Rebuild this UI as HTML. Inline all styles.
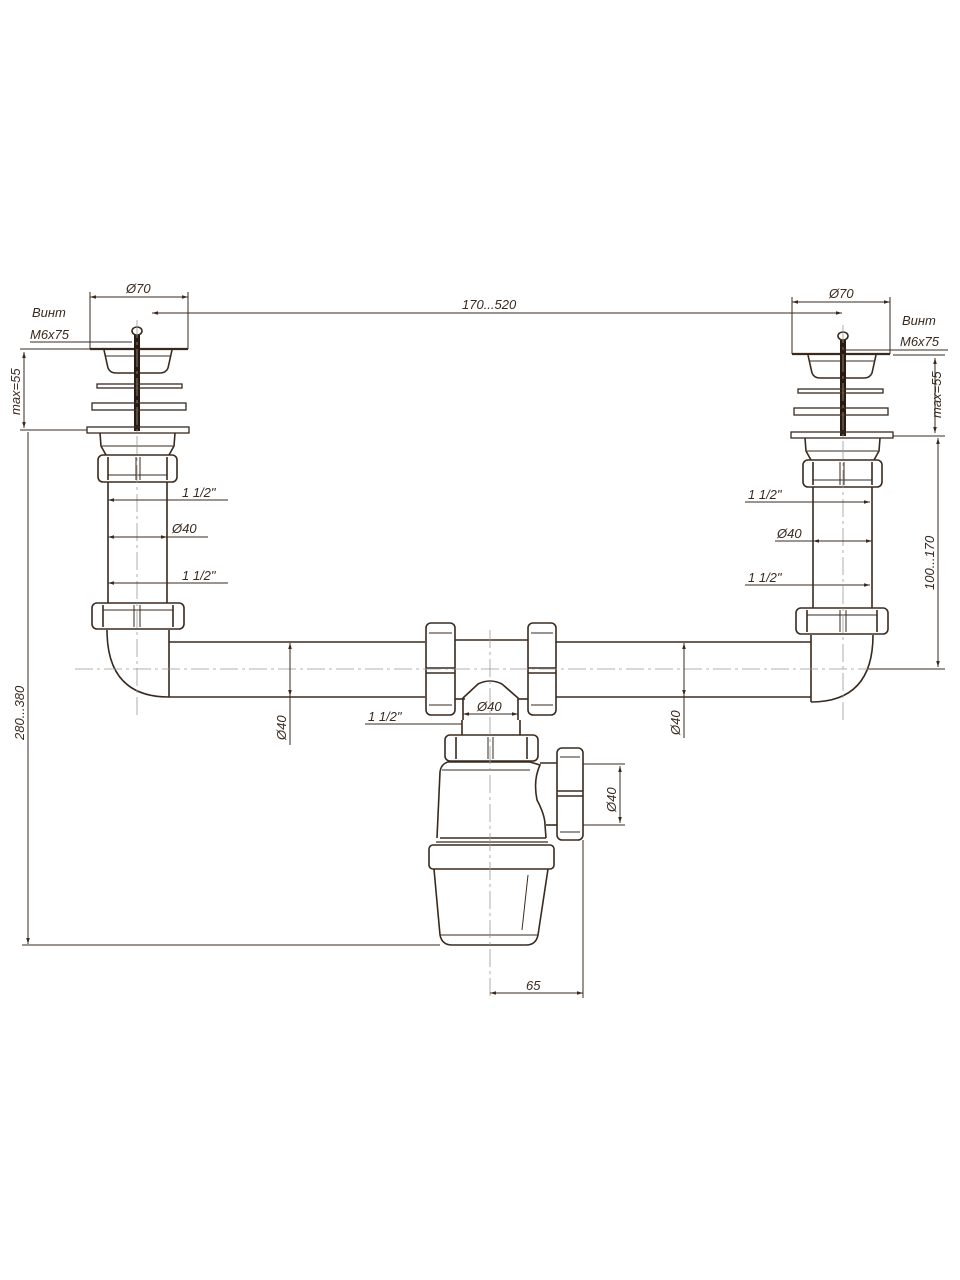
<!DOCTYPE html>
<html><head><meta charset="utf-8"><style>
html,body{margin:0;padding:0;background:#fff}
svg{display:block}
text{font-family:"Liberation Sans",sans-serif;font-style:italic;font-size:13px;fill:#3a2a1e}
</style></head><body>
<svg width="960" height="1280" viewBox="0 0 960 1280" xmlns="http://www.w3.org/2000/svg">
<defs>
<marker id="a" viewBox="0 0 10 10" refX="10" refY="5" markerWidth="6" markerHeight="6" orient="auto-start-reverse"><path d="M0,2 L10,5 L0,8z" fill="#3a2a1e"/></marker>
<g id="riser" fill="none" stroke="#3a2a1e" stroke-width="1.6">
  <!-- dims -->
  <line x1="90" y1="292" x2="90" y2="349" stroke-width="1"/>
  <line x1="188" y1="292" x2="188" y2="349" stroke-width="1"/>
  <line x1="90" y1="297" x2="188" y2="297" stroke-width="1" marker-start="url(#a)" marker-end="url(#a)"/>
  <!-- top flange -->
  <line x1="90" y1="349" x2="188" y2="349" stroke-width="2.2"/>
  <path d="M104,350 L108,368 Q110,373 116,373 L160,373 Q166,373 168,368 L172,350"/>
  <path d="M106,356 L170,356" stroke-width="1"/>
  <!-- bolt -->
  <rect x="134" y="335" width="6" height="96" fill="#2a1a10" stroke="none"/>
  <ellipse cx="137" cy="331" rx="5" ry="4"/>
  <!-- washers -->
  <rect x="97" y="384" width="85" height="4" stroke-width="1.3"/>
  <rect x="92" y="403" width="94" height="7" stroke-width="1.3"/>
  <rect x="87" y="427" width="102" height="6" stroke-width="1.3"/>
  <!-- body -->
  <path d="M100,433 L101,446 L106,455 M175,433 L174,446 L169,455"/>
  <line x1="102" y1="446" x2="173" y2="446" stroke-width="1"/>
  <!-- upper nut -->
  <rect x="98" y="455" width="79" height="27" rx="5"/>
  <line x1="108" y1="457" x2="108" y2="480"/><line x1="167" y1="457" x2="167" y2="480"/>
  <line x1="136" y1="457" x2="136" y2="480" stroke-width="1"/><line x1="140" y1="457" x2="140" y2="480" stroke-width="1"/>
  <line x1="108" y1="475" x2="167" y2="475" stroke-width="1"/>
  <!-- pipe -->
  <line x1="108" y1="482" x2="108" y2="603"/><line x1="167" y1="482" x2="167" y2="603"/>
  <!-- lower nut -->
  <rect x="92" y="603" width="92" height="26" rx="5"/>
  <line x1="103" y1="605" x2="103" y2="627"/><line x1="173" y1="605" x2="173" y2="627"/>
  <line x1="134" y1="605" x2="134" y2="627" stroke-width="1"/><line x1="140" y1="605" x2="140" y2="627" stroke-width="1"/>
  <line x1="103" y1="610" x2="173" y2="610" stroke-width="1"/>
  <!-- elbow -->
  <path d="M107,630 Q107,697 169,697"/>
  <line x1="169" y1="630" x2="169" y2="697"/>
  <!-- center line -->
  <line x1="137" y1="320" x2="137" y2="718" stroke-width="0.8" stroke="#999" stroke-dasharray="18,4,3,4"/>
</g>
</defs>

<use href="#riser"/>
<use href="#riser" transform="translate(980,5) scale(-1,1)"/>

<g fill="none" stroke="#3a2a1e" stroke-width="1.6">
  <!-- horizontal pipe -->
  <line x1="169" y1="642" x2="425" y2="642"/><line x1="169" y1="697" x2="425" y2="697"/>
  <line x1="556" y1="642" x2="811" y2="642"/><line x1="556" y1="697" x2="811" y2="697"/>
  <line x1="455" y1="640" x2="528" y2="640"/><line x1="455" y1="699" x2="465" y2="699"/><line x1="518" y1="699" x2="528" y2="699"/>
  <!-- tee nuts -->
  <rect x="426" y="623" width="29" height="92" rx="5"/>
  <line x1="426" y1="668" x2="455" y2="668"/><line x1="426" y1="673" x2="455" y2="673"/>
  <line x1="429" y1="633" x2="452" y2="633" stroke-width="1"/><line x1="429" y1="705" x2="452" y2="705" stroke-width="1"/>
  <rect x="528" y="623" width="28" height="92" rx="5"/>
  <line x1="528" y1="668" x2="556" y2="668"/><line x1="528" y1="673" x2="556" y2="673"/>
  <line x1="531" y1="633" x2="553" y2="633" stroke-width="1"/><line x1="531" y1="705" x2="553" y2="705" stroke-width="1"/>
  <!-- tee cup -->
  <path d="M463,720 L463,698 L478,684 Q490,678 502,684 L518,698 L518,720"/>
  <path d="M462,720 L462,735 M520,720 L520,735"/>
  <!-- siphon nut -->
  <rect x="445" y="735" width="93" height="26" rx="5"/>
  <line x1="456" y1="737" x2="456" y2="759"/><line x1="527" y1="737" x2="527" y2="759"/>
  <line x1="488" y1="737" x2="488" y2="759" stroke-width="1"/><line x1="493" y1="737" x2="493" y2="759" stroke-width="1"/>
  <!-- siphon body -->
  <path d="M448,762 Q441,764 440,772 L437,838 M530,762 L540,765 Q533,780 537,800 Q545,815 545,825 L546,838"/>
  <line x1="442" y1="770" x2="530" y2="770" stroke-width="1"/>
  <line x1="448" y1="762" x2="530" y2="762"/>
  <line x1="440" y1="838" x2="546" y2="838"/>
  <line x1="436" y1="842" x2="548" y2="842" stroke-width="1.2"/>
  <rect x="429" y="845" width="125" height="24" rx="4"/>
  <path d="M434,869 L440,935 Q442,945 452,945 L526,945 Q536,945 538,935 L548,869"/>
  <line x1="440" y1="935" x2="538" y2="935" stroke-width="1"/>
  <line x1="528" y1="875" x2="522" y2="930" stroke-width="1"/>
  <!-- side outlet -->
  <line x1="540" y1="763" x2="557" y2="763"/><line x1="546" y1="825" x2="557" y2="825"/>
  <rect x="557" y="748" width="26" height="92" rx="5"/>
  <line x1="557" y1="791" x2="583" y2="791"/><line x1="557" y1="796" x2="583" y2="796"/>
  <line x1="560" y1="757" x2="580" y2="757" stroke-width="1"/><line x1="560" y1="832" x2="580" y2="832" stroke-width="1"/>
</g>

<!-- center lines -->
<g stroke="#999" stroke-width="0.8" stroke-dasharray="18,4,3,4" fill="none">
  <line x1="75" y1="669" x2="905" y2="669"/>
  <line x1="490" y1="630" x2="490" y2="1000"/>
</g>

<!-- dimension lines -->
<g stroke="#3a2a1e" stroke-width="1" fill="none">
  <line x1="152" y1="313" x2="842" y2="313" marker-start="url(#a)" marker-end="url(#a)"/>
  <line x1="20" y1="349" x2="90" y2="349"/><line x1="20" y1="430" x2="87" y2="430"/>
  <line x1="24" y1="352" x2="24" y2="428" marker-start="url(#a)" marker-end="url(#a)"/>
  <line x1="28" y1="432" x2="28" y2="944" marker-end="url(#a)"/>
  <line x1="22" y1="945" x2="440" y2="945"/>
  <line x1="893" y1="355" x2="945" y2="355"/><line x1="893" y1="436" x2="945" y2="436"/>
  <line x1="935" y1="358" x2="935" y2="433" marker-start="url(#a)" marker-end="url(#a)"/>
  <line x1="938" y1="438" x2="938" y2="667" marker-start="url(#a)" marker-end="url(#a)"/>
  <line x1="868" y1="669" x2="945" y2="669"/>
  <line x1="30" y1="342" x2="132" y2="342"/>
  <line x1="842" y1="350" x2="948" y2="350"/>
  <line x1="108" y1="500" x2="228" y2="500" marker-start="url(#a)"/>
  <line x1="108" y1="537" x2="167" y2="537" marker-start="url(#a)" marker-end="url(#a)"/><line x1="167" y1="537" x2="208" y2="537"/>
  <line x1="108" y1="583" x2="228" y2="583" marker-start="url(#a)"/>
  <line x1="745" y1="502" x2="870" y2="502" marker-end="url(#a)"/>
  <line x1="775" y1="541" x2="813" y2="541"/><line x1="813" y1="541" x2="872" y2="541" marker-start="url(#a)" marker-end="url(#a)"/>
  <line x1="745" y1="585" x2="870" y2="585" marker-end="url(#a)"/>
  <line x1="290" y1="643" x2="290" y2="696" marker-start="url(#a)" marker-end="url(#a)"/><line x1="290" y1="696" x2="290" y2="745"/>
  <line x1="684" y1="643" x2="684" y2="696" marker-start="url(#a)" marker-end="url(#a)"/><line x1="684" y1="696" x2="684" y2="738"/>
  <line x1="365" y1="724" x2="462" y2="724"/>
  <line x1="463" y1="714" x2="518" y2="714" marker-start="url(#a)" marker-end="url(#a)"/>
  <line x1="583" y1="764" x2="625" y2="764"/><line x1="583" y1="825" x2="625" y2="825"/>
  <line x1="620" y1="766" x2="620" y2="823" marker-start="url(#a)" marker-end="url(#a)"/>
  <line x1="583" y1="840" x2="583" y2="998"/>
  <line x1="490" y1="993" x2="583" y2="993" marker-start="url(#a)" marker-end="url(#a)"/>
</g>

<!-- labels -->
<text x="126" y="293">Ø70</text>
<text x="829" y="298">Ø70</text>
<text x="462" y="309">170...520</text>
<text x="32" y="317">Винт</text>
<text x="30" y="339">M6x75</text>
<text x="902" y="325">Винт</text>
<text x="900" y="346">M6x75</text>
<text x="182" y="497">1 1/2"</text>
<text x="172" y="533">Ø40</text>
<text x="182" y="580">1 1/2"</text>
<text x="748" y="499">1 1/2"</text>
<text x="777" y="538">Ø40</text>
<text x="748" y="582">1 1/2"</text>
<text x="368" y="721">1 1/2"</text>
<text x="477" y="711">Ø40</text>
<text x="526" y="990">65</text>
<text transform="translate(20,415) rotate(-90)">max=55</text>
<text transform="translate(941,418) rotate(-90)">max=55</text>
<text transform="translate(24,740) rotate(-90)">280...380</text>
<text transform="translate(934,590) rotate(-90)">100...170</text>
<text transform="translate(286,740) rotate(-90)">Ø40</text>
<text transform="translate(680,735) rotate(-90)">Ø40</text>
<text transform="translate(616,812) rotate(-90)">Ø40</text>
</svg>
</body></html>
